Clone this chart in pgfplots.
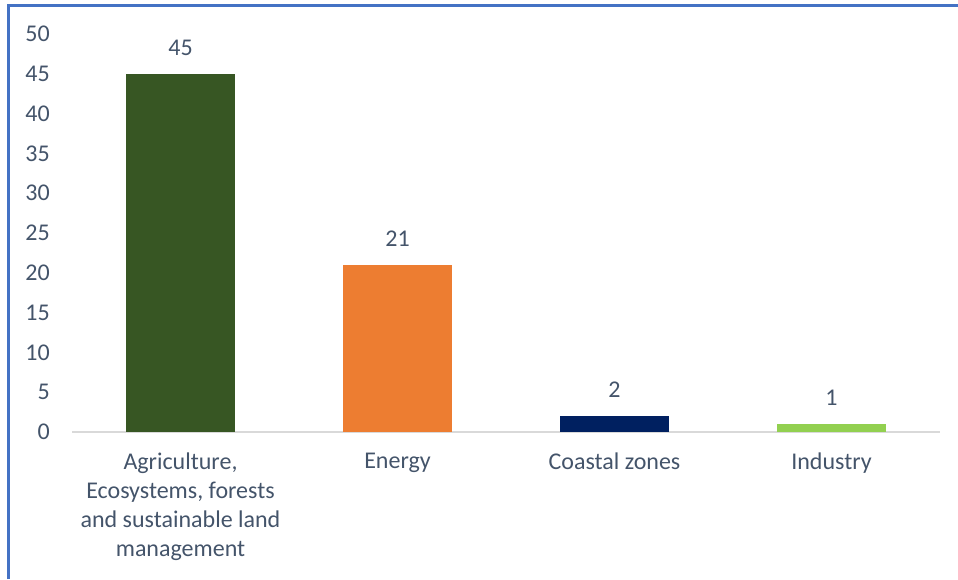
\documentclass[border=0pt]{standalone}
\usepackage{fontspec}
\setmainfont{Carlito}
\usepackage{pgfplots}
\pgfplotsset{compat=1.18}
\definecolor{txt}{HTML}{44546A}
\definecolor{frameblue}{HTML}{4472C4}
\definecolor{agri}{HTML}{375623}
\definecolor{energy}{HTML}{ED7D31}
\definecolor{coast}{HTML}{002060}
\definecolor{indus}{HTML}{92D050}
\definecolor{axisgray}{HTML}{D9D9D9}
\begin{document}
\begin{tikzpicture}[x=1pt,y=1pt]
\useasboundingbox (0,0) rectangle (958,579);
\draw[color=frameblue, line width=3pt] (8,0) -- (8,573) -- (958,573);
\begin{axis}[
  at={(72pt,147pt)}, anchor=south west,
  scale only axis, width=868pt, height=398pt,
  xmin=-0.5, xmax=3.5, ymin=0, ymax=50,
  ytick={0,5,...,50},
  xtick={0,1,2,3},
  xticklabels={{Agriculture,\\Ecosystems, forests\\and sustainable land\\management},Energy,Coastal zones,Industry},
  axis x line*=bottom, axis y line*=left,
  x axis line style={draw=axisgray, line width=1.5pt, -},
  y axis line style={draw=none},
  major tick length=0pt,
  ticklabel style={font=\fontsize{24}{29}\selectfont, text=txt},
  /pgf/number format/assume math mode=true,
  yticklabel style={inner sep=0pt, xshift=-22pt},
  xticklabel style={align=center, inner sep=0pt, yshift=-21pt},
  ybar, bar width=109pt,
  every axis plot/.append style={bar shift=0pt, draw=none},
  nodes near coords,
  nodes near coords style={font=\fontsize{24}{29}\selectfont, text=txt, anchor=south, inner sep=0pt, yshift=18pt},
  clip=false,
]
\addplot[fill=agri] coordinates {(0,45)};
\addplot[fill=energy] coordinates {(1,21)};
\addplot[fill=coast] coordinates {(2,2)};
\addplot[fill=indus] coordinates {(3,1)};
\end{axis}
\end{tikzpicture}
\end{document}
